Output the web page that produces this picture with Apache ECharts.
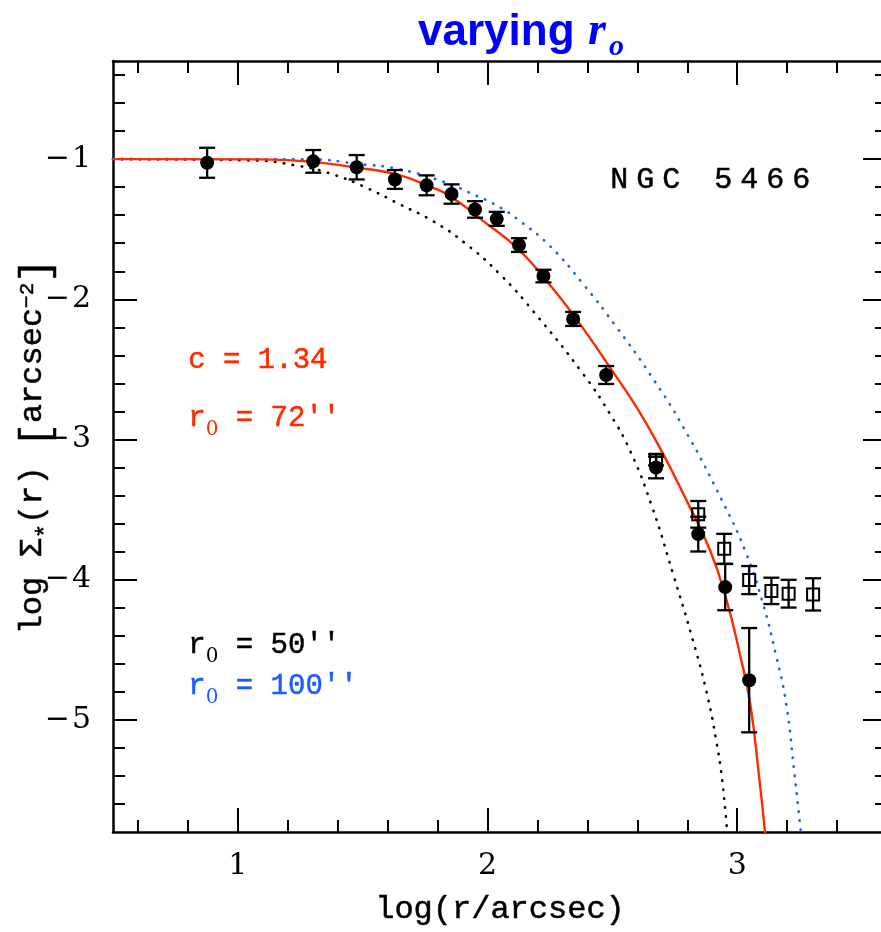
<!DOCTYPE html>
<html>
<head>
<meta charset="utf-8">
<script src="https://cdn.jsdelivr.net/npm/echarts@6/dist/echarts.min.js"></script>
<style>
  html, body { margin: 0; padding: 0; background: #fff; overflow: hidden; }
  #chart { width: 881px; height: 932px; }
</style>
</head>
<body>
<div id="chart"></div>
<script>
// NGC 5466 stellar surface density profile with King-model curves for three r0 values.

// Measured profile (filled circles): log r, log Sigma, 1-sigma error
const dotLogR   = [0.877, 1.302, 1.476, 1.629, 1.756, 1.856, 1.950, 2.037, 2.126, 2.224, 2.343, 2.475, 2.675, 2.844, 2.952, 3.048];
const dotLogS   = [-1.026, -1.016, -1.058, -1.145, -1.187, -1.249, -1.359, -1.426, -1.613, -1.834, -2.140, -2.540, -3.200, -3.675, -4.053, -4.717];
const dotErr    = [0.107, 0.081, 0.087, 0.067, 0.071, 0.069, 0.059, 0.050, 0.049, 0.045, 0.050, 0.064, 0.077, 0.124, 0.165, 0.372];

// Outer counts (open squares)
const boxLogR   = [2.675, 2.844, 2.948, 3.048, 3.137, 3.206, 3.304];
const boxLogS   = [-3.145, -3.534, -3.780, -4.003, -4.080, -4.100, -4.105];
const boxErr    = [0.040, 0.095, 0.107, 0.100, 0.094, 0.099, 0.115];

// Model with c = 1.34, r0 = 72"
const fitLogR   = [0.5, 1.076, 1.288, 1.476, 1.636, 1.768, 1.850, 1.983, 2.117, 2.237, 2.357, 2.491, 2.598, 2.691, 2.798, 2.892, 2.958, 3.012, 3.052, 3.085, 3.112];
const fitLogS   = [-1.0, -1.002, -1.018, -1.061, -1.109, -1.196, -1.264, -1.442, -1.632, -1.870, -2.143, -2.488, -2.773, -3.062, -3.438, -3.794, -4.151, -4.542, -4.885, -5.362, -5.809];

// Model with r0 = 50"
const smallLogR = [0.5, 1.048, 1.248, 1.381, 1.516, 1.649, 1.781, 1.916, 2.050, 2.182, 2.384, 2.491, 2.571, 2.655, 2.743, 2.823, 2.876, 2.916, 2.940, 2.960];
const smallLogS = [-1.0, -1.009, -1.050, -1.109, -1.205, -1.323, -1.442, -1.608, -1.822, -2.083, -2.535, -2.820, -3.081, -3.459, -3.958, -4.435, -4.792, -5.148, -5.433, -5.804];

// Model with r0 = 100"
const bigLogR   = [0.5, 1.288, 1.476, 1.649, 1.836, 1.943, 2.037, 2.130, 2.250, 2.384, 2.518, 2.651, 2.785, 2.940, 3.032, 3.100, 3.156, 3.196, 3.228, 3.255];
const bigLogS   = [-1.0, -1.002, -1.033, -1.073, -1.169, -1.252, -1.331, -1.442, -1.620, -1.893, -2.202, -2.535, -2.915, -3.438, -3.794, -4.150, -4.542, -4.885, -5.362, -5.804];

// Tick values
const xMajorTicks = [1, 2, 3];
const xMinorTicks = [0.6, 0.8, 1.2, 1.4, 1.6, 1.8, 2.2, 2.4, 2.6, 2.8, 3.2, 3.4];
const yMajorTicks = [-5, -4, -3, -2, -1];
const yMinorTicks = [-5.6, -5.4, -5.2, -4.8, -4.6, -4.4, -4.2, -3.8, -3.6, -3.4, -3.2,
                     -2.8, -2.6, -2.4, -2.2, -1.8, -1.6, -1.4, -1.2, -0.8, -0.6, -0.4];

const RED = '#ff2a00';
const BLUE = '#1c5cff';
const MONO = '"Liberation Mono", "DejaVu Sans Mono", monospace';
const SERIF = '"DejaVu Serif", serif';

const zip = (a, b) => a.map((v, i) => [v, b[i]]);
const zip3 = (a, b, c) => a.map((v, i) => [v, b[i], c[i]]);

const frameLine = { show: true, onZero: false, lineStyle: { color: '#000', width: 2.5 } };
const noLine = { show: false, onZero: false };

function axis(kind, pos, ticks, len, extra) {
  const isX = kind === 'x';
  return Object.assign({
    type: 'value',
    gridIndex: 0,
    position: pos,
    min: isX ? 0.5 : -5.8,
    max: isX ? 3.6 : -0.3,
    axisLine: noLine,
    axisTick: { show: true, inside: true, length: len, customValues: ticks,
                lineStyle: { color: '#000', width: 2 } },
    axisLabel: { show: false },
    splitLine: { show: false }
  }, extra || {});
}

const xAxes = [
  axis('x', 'bottom', xMajorTicks, 24, {
    axisLine: frameLine,
    axisLabel: { show: true, customValues: xMajorTicks, margin: 19, color: '#000',
                 fontFamily: SERIF, fontSize: 30, formatter: v => String(v) },
    name: 'log(r/arcsec)',
    nameLocation: 'middle',
    nameGap: 62,
    nameMoveOverlap: false,
    nameTextStyle: { color: '#000', fontFamily: MONO, fontSize: 32,
                     textBorderColor: '#000', textBorderWidth: 0.5 }
  }),
  axis('x', 'bottom', xMinorTicks, 12),
  axis('x', 'top', xMajorTicks, 24, { axisLine: frameLine }),
  axis('x', 'top', xMinorTicks, 12)
];

const nameTok = { fontFamily: MONO, color: '#000', textBorderColor: '#000', textBorderWidth: 0.5, verticalAlign: 'top' };
const yAxes = [
  axis('y', 'left', yMajorTicks, 24, {
    axisLine: frameLine,
    axisLabel: {
      show: true, customValues: yMajorTicks, margin: 22,
      formatter: v => '{m|\u2212}{n|' + Math.abs(v) + '}',
      rich: {
        m: { fontFamily: SERIF, fontSize: 30, color: '#000', padding: [0, 2, 0, 0] },
        n: { fontFamily: SERIF, fontSize: 30, color: '#000' }
      }
    },
    name: '{t|log Σ}{sub|*}{t|(r) }{br|[}{t|arcsec}{sup|−2}{br|]}',
    nameLocation: 'middle',
    nameGap: 56,
    nameMoveOverlap: false,
    nameTextStyle: {
      color: '#000',
      rich: {
        t:   Object.assign({ fontSize: 32, lineHeight: 36 }, nameTok),
        sub: Object.assign({ fontSize: 24, lineHeight: 22, padding: [18, 0, 0, 0] }, nameTok),
        sup: Object.assign({ fontSize: 21, lineHeight: 20, padding: [0, 0, 16, 0] }, nameTok),
        br:  Object.assign({ fontSize: 40, lineHeight: 40 }, nameTok)
      }
    }
  }),
  axis('y', 'left', yMinorTicks, 12),
  axis('y', 'right', yMajorTicks, 24, { axisLine: frameLine }),
  axis('y', 'right', yMinorTicks, 12)
];

function errorBars(params, api) {
  const x = api.value(0), y = api.value(1), e = api.value(2);
  const hi = api.coord([x, y + e]);
  const lo = api.coord([x, y - e]);
  const cap = 8;
  const style = { stroke: '#000', lineWidth: 2.3 };
  return {
    type: 'group',
    children: [
      { type: 'line', shape: { x1: hi[0], y1: hi[1], x2: lo[0], y2: lo[1] }, style },
      { type: 'line', shape: { x1: hi[0] - cap, y1: hi[1], x2: hi[0] + cap, y2: hi[1] }, style },
      { type: 'line', shape: { x1: lo[0] - cap, y1: lo[1], x2: lo[0] + cap, y2: lo[1] }, style }
    ]
  };
}

const dotted = (color) => ({ color, width: 2.6, type: [0.5, 8.5], cap: 'round' });

// Annotation text with an r-subscript-0 prefix
function rLabel(rest, color, top) {
  return {
    type: 'text', left: 188, top,
    style: {
      text: '{m|r}{s|0}{m| = ' + rest + '}',
      rich: {
        m: { font: '29px ' + MONO, fill: color, stroke: color, lineWidth: 0.5, lineHeight: 32, verticalAlign: 'top' },
        s: { font: '20px ' + SERIF, fill: color, lineHeight: 20, padding: [16, 0, 0, 0], verticalAlign: 'top' }
      }
    }
  };
}

// Wide-set object name, one fixed-width cell per character
const objName = 'NGC 5466';
const objRich = objName.split('').map(ch => '{c|' + (ch === ' ' ? '\u00a0' : ch) + '}').join('');

const option = {
  animation: false,
  backgroundColor: '#fff',
  grid: { left: 113, top: 61, width: 774, height: 771, containLabel: false, outerBoundsMode: 'none' },
  xAxis: xAxes,
  yAxis: yAxes,
  series: [
    { type: 'line', data: zip(smallLogR, smallLogS), showSymbol: false, smooth: 0.5,
      lineStyle: dotted('#000'), z: 2 },
    { type: 'line', data: zip(bigLogR, bigLogS), showSymbol: false, smooth: 0.5,
      lineStyle: dotted(BLUE), z: 2 },
    { type: 'line', data: zip(fitLogR, fitLogS), showSymbol: false, smooth: 0.5,
      lineStyle: { color: RED, width: 2.4 }, z: 3 },
    { type: 'custom', data: zip3(boxLogR, boxLogS, boxErr), renderItem: errorBars, z: 4 },
    { type: 'scatter', data: zip(boxLogR, boxLogS), symbol: 'rect', symbolSize: 12,
      itemStyle: { color: 'rgba(0,0,0,0)', borderColor: '#000', borderWidth: 2, opacity: 1 }, z: 4 },
    { type: 'custom', data: zip3(dotLogR, dotLogS, dotErr), renderItem: errorBars, z: 5 },
    { type: 'scatter', data: zip(dotLogR, dotLogS), symbol: 'circle', symbolSize: 14,
      itemStyle: { color: '#000', opacity: 1 }, z: 5 }
  ],
  graphic: [
    { type: 'text', left: 418, top: 11,
      style: { text: 'varying', font: 'bold 44px "Liberation Sans", Arial, sans-serif', fill: '#0000ff' } },
    { type: 'text', left: 588, top: 9,
      style: { text: 'r', font: 'italic bold 46px "Liberation Serif", serif', fill: '#0000ff' } },
    { type: 'text', left: 609, top: 32,
      style: { text: 'o', font: 'italic bold 30px "Liberation Serif", serif', fill: '#0000ff' } },
    { type: 'text', left: 610, top: 165,
      style: { text: objRich,
               rich: { c: { font: '30px ' + MONO, fill: '#000', stroke: '#000', lineWidth: 0.5,
                            width: 26, align: 'center' } } } },
    { type: 'text', left: 188, top: 346,
      style: { text: 'c = 1.34', font: '29px ' + MONO, fill: RED, stroke: RED, lineWidth: 0.5 } },
    rLabel('72\'\'', RED, 404),
    rLabel('50\'\'', '#000', 631),
    rLabel('100\'\'', BLUE, 672)
  ]
};

const chart = echarts.init(document.getElementById('chart'), null, { renderer: 'canvas', width: 881, height: 932 });
chart.setOption(option);
</script>
</body>
</html>
